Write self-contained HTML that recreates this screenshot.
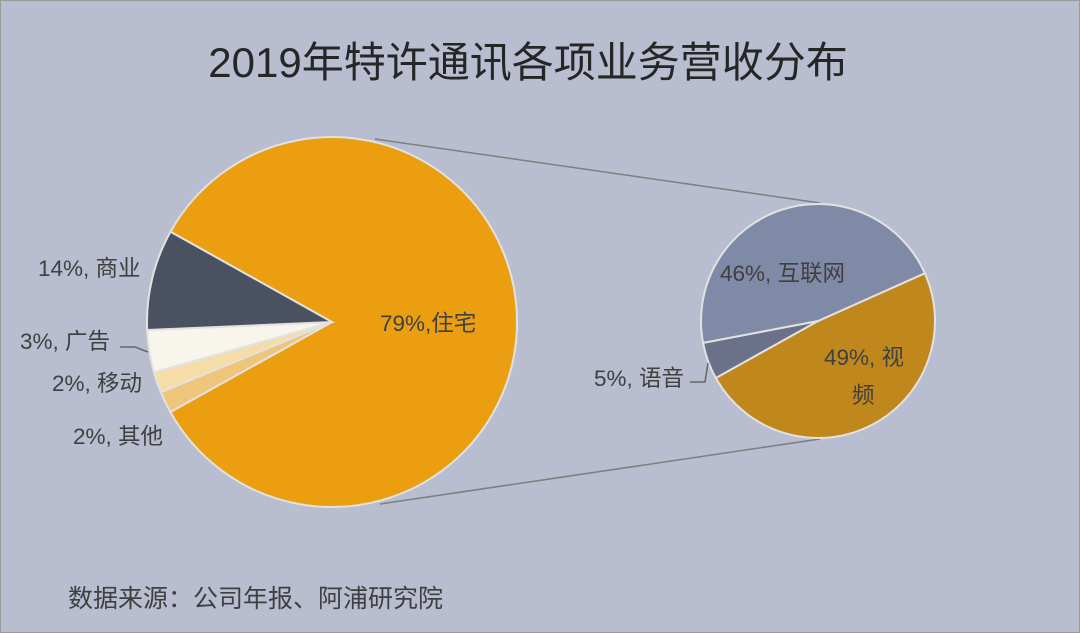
<!DOCTYPE html>
<html><head><meta charset="utf-8"><style>
html,body{margin:0;padding:0;}
body{width:1080px;height:633px;overflow:hidden;background:#b8bdd0;}
svg{display:block;}
text{font-family:"Liberation Sans","Noto Sans CJK SC",sans-serif;fill:#404040;}
</style></head><body>
<svg width="1080" height="633">
<rect x="0.5" y="0.5" width="1079" height="632" fill="#b8bdd0" stroke="#9a9a9a"/>
<text x="528" y="77" font-size="42" text-anchor="middle" style="fill:#262626">2019年特许通讯各项业务营收分布</text>
<g id="lines"></g>
<g id="main"></g>
<g id="sub"></g>
<g id="labels"></g>
<path d="M120,347 L135,347 L148,352" fill="none" stroke="#666" stroke-width="1.5"/>
<path d="M690,382 L705,382 L708,363" fill="none" stroke="#666" stroke-width="1.5"/>
<text x="68" y="607" font-size="25">数据来源：公司年报、阿浦研究院</text>
</svg>
<script>
const mainCategories = ["住宅","其他","移动","广告","商业"];
const mainValues = [83.8, 1.9, 1.8, 3.7, 8.8];
const mainLabels = ["79%,住宅","2%, 其他","2%, 移动","3%, 广告","14%, 商业"];
const subCategories = ["视频","语音","互联网"];
const subValues = [48.6, 5.1, 46.3];
const subLabels = ["49%, 视","5%, 语音","46%, 互联网"];

const NS="http://www.w3.org/2000/svg";
const mainColors=["#eb9f10","#eec57a","#f6dca7","#f8f5ec","#4a5160"];
const subColors=["#c0871c","#6b7189","#7f8aa6"];
function drawPie(g,cx,cy,r,values,colors,startDeg,names){
  const total=values.reduce((a,b)=>a+b,0);
  let a=startDeg*Math.PI/180;
  values.forEach((v,i)=>{
    const da=v/total*2*Math.PI, b=a+da;
    const x1=cx+r*Math.cos(a),y1=cy+r*Math.sin(a),x2=cx+r*Math.cos(b),y2=cy+r*Math.sin(b);
    const p=document.createElementNS(NS,"path");
    p.setAttribute("d",`M${cx},${cy} L${x1},${y1} A${r},${r} 0 ${da>Math.PI?1:0} 1 ${x2},${y2} Z`);
    p.setAttribute("fill",colors[i]);p.setAttribute("stroke","#e2e2e2");p.setAttribute("stroke-width","2");
    
    
    g.appendChild(p); a=b;
  });
}
drawPie(document.getElementById("main"),332,322,185,mainValues,mainColors,209.2,mainCategories);
drawPie(document.getElementById("sub"),818,321,117,subValues,subColors,-24.1,subCategories);
const lg=document.getElementById("lines");
[[375,139,820,203],[380,504,820,439]].forEach(l=>{
  const ln=document.createElementNS(NS,"line");
  ln.setAttribute("x1",l[0]);ln.setAttribute("y1",l[1]);ln.setAttribute("x2",l[2]);ln.setAttribute("y2",l[3]);
  ln.setAttribute("stroke","#7f7f7f");ln.setAttribute("stroke-width","1.5");
  
  
  lg.appendChild(ln);
});
const labelPos=[[mainLabels[0],380,331],[mainLabels[1],73,444],[mainLabels[2],52,391],[mainLabels[3],20,349],[mainLabels[4],38,276],
 [subLabels[0],824,365],["频",852,403],[subLabels[1],594,386],[subLabels[2],720,281]];
const lb=document.getElementById("labels");
labelPos.forEach(p=>{
  const t=document.createElementNS(NS,"text");
  t.setAttribute("x",p[1]);t.setAttribute("y",p[2]);t.setAttribute("font-size","22.5");
  t.textContent=p[0];
  
  
  lb.appendChild(t);
});
</script>
</body></html>
